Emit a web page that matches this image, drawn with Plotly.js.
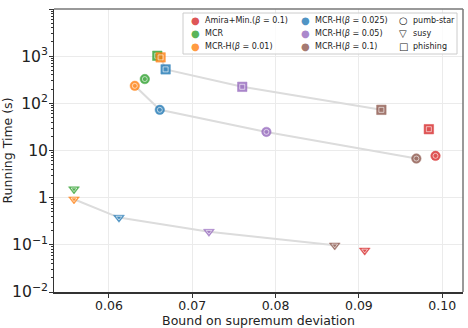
<!DOCTYPE html>
<html>
<head>
<meta charset="utf-8">
<script src="https://cdn.plot.ly/plotly-3.0.1.min.js"></script>
<style>
  html, body { margin: 0; padding: 0; background: #fff; }
  #plotArea { width: 468px; height: 328px; }
</style>
</head>
<body>
<div id="plotArea"></div>
<script>
// order of points in every array: pumb-star, susy, phishing
var datasets = ["pumb-star", "susy", "phishing"];
var datasetSymbols = ["circle", "triangle-down", "square"];
var datasetGlyphs = ["○", "▽", "□"];

var methods = ["Amira+Min.(<i>β</i> = 0.1)", "MCR", "MCR-H(<i>β</i> = 0.01)",
               "MCR-H(<i>β</i> = 0.025)", "MCR-H(<i>β</i> = 0.05)", "MCR-H(<i>β</i> = 0.1)"];
var colors = ["#d62728", "#2ca02c", "#ff7f0e", "#1f77b4", "#9467bd", "#8c564b"];

var amiraBound = [0.0992, 0.0907, 0.0984];
var amiraTime  = [7.7, 0.076, 28.3];
var mcrBound   = [0.0643, 0.0558, 0.0658];
var mcrTime    = [327, 1.51, 1020];
var h01Bound   = [0.0631, 0.0558, 0.0662];
var h01Time    = [235, 0.925, 942];
var h025Bound  = [0.0661, 0.0612, 0.0668];
var h025Time   = [72.8, 0.378, 525];
var h05Bound   = [0.0789, 0.0720, 0.0760];
var h05Time    = [24.8, 0.19, 224];
var h1Bound    = [0.0969, 0.0871, 0.0927];
var h1Time     = [6.76, 0.0975, 72.8];

var bounds = [amiraBound, mcrBound, h01Bound, h025Bound, h05Bound, h1Bound];
var times  = [amiraTime, mcrTime, h01Time, h025Time, h05Time, h1Time];

function hexA(hex, a) {
  var n = parseInt(hex.slice(1), 16);
  return "rgba(" + (n >> 16) + "," + ((n >> 8) & 255) + "," + (n & 255) + "," + a + ")";
}

var data = [];

// grey lines through the MCR-H runs of each dataset
var hierarchy = [2, 3, 4, 5];
datasets.forEach(function (ds, d) {
  data.push({
    x: hierarchy.map(function (m) { return bounds[m][d]; }),
    y: hierarchy.map(function (m) { return times[m][d]; }),
    mode: "lines",
    line: { color: "#dcdcdc", width: 2 },
    hoverinfo: "skip"
  });
});

methods.forEach(function (name, m) {
  data.push({
    x: bounds[m], y: times[m],
    mode: "markers",
    name: name,
    marker: { color: colors[m], size: 9.5, symbol: datasetSymbols, opacity: 0.8,
              line: { color: colors[m], width: 0.5 } }
  });
  // small white inner ring on every marker
  data.push({
    x: bounds[m], y: times[m],
    mode: "markers",
    hoverinfo: "skip",
    marker: { color: "rgba(255,255,255,0.75)", size: 5,
              symbol: datasetSymbols.map(function (s) { return s + "-open"; }),
              line: { width: 0.8 } }
  });
});

// legend drawn as a framed block of text in the upper right, 3 columns x 3 rows
var W = 468, H = 328, mL = 54, mR = 5, mT = 9, mB = 36;
var pw = W - mL - mR, ph = H - mT - mB;
function px(x) { return (x - mL) / pw; }
function py(y) { return 1 - (y - mT) / ph; }
var colX = [195, 305, 403];
var rowY = [21, 33.5, 46];
var annotations = [];
function legendEntry(col, row, glyph, glyphColor, glyphSize, label) {
  annotations.push({ xref: "paper", yref: "paper", x: px(colX[col]), y: py(rowY[row]),
    text: glyph, showarrow: false, xanchor: "center", yanchor: "middle",
    borderpad: 0,
    font: { family: "DejaVu Sans", size: glyphSize, color: glyphColor } });
  annotations.push({ xref: "paper", yref: "paper", x: px(colX[col] + 9), y: py(rowY[row]),
    text: label, showarrow: false, xanchor: "left", yanchor: "middle",
    borderpad: 0,
    font: { family: "DejaVu Sans", size: 8, color: "#222" } });
}
methods.forEach(function (name, m) {
  legendEntry(Math.floor(m / 3), m % 3, "●", hexA(colors[m], 0.8), 10, name);
});
datasets.forEach(function (ds, d) {
  legendEntry(2, d, "<b>" + datasetGlyphs[d] + "</b>", "#222", 10, ds);
});

var layout = {
  width: W, height: H,
  margin: { l: mL, r: mR, t: mT, b: mB },
  paper_bgcolor: "#fff", plot_bgcolor: "#fff",
  font: { family: "DejaVu Sans", size: 12, color: "#222" },
  showlegend: false,
  xaxis: {
    title: { text: "Bound on supremum deviation", font: { size: 12.5 }, standoff: 4 },
    range: [0.0534, 0.1025],
    tick0: 0.06, dtick: 0.01, tickformat: ".2f",
    ticks: "outside", ticklen: 4, tickcolor: "#333", ticklabelstandoff: -3,
    showline: true, linecolor: "#333", linewidth: 1.5,
    showgrid: true, gridcolor: "#ebebeb", zeroline: false,
    tickfont: { size: 12.5 }
  },
  yaxis: {
    title: { text: "Running Time (s)", font: { size: 12.5 }, standoff: 6 },
    type: "log", range: [-2, 4], dtick: 1, exponentformat: "power",
    ticks: "outside", ticklen: 4, tickcolor: "#333", ticklabelstandoff: -2,
    minor: { ticks: "outside", ticklen: 2, tickcolor: "#333", dtick: "D1", showgrid: false },
    showline: true, linecolor: "#333", linewidth: 1.5,
    showgrid: true, gridcolor: "#ebebeb", zeroline: false,
    tickfont: { size: 12.5 }
  },
  annotations: annotations,
  shapes: [
    { type: "line", xref: "paper", yref: "paper", x0: 0, x1: 1, y0: 1, y1: 1,
      line: { color: "#777", width: 1.5 } },
    { type: "line", xref: "paper", yref: "paper", x0: 1, x1: 1, y0: 0, y1: 1,
      line: { color: "#777", width: 1.5 } },
    { type: "rect", xref: "paper", yref: "paper",
      x0: px(183), x1: px(457), y0: py(54), y1: py(13),
      layer: "above", fillcolor: "rgba(255,255,255,0.8)", line: { color: "#cccccc", width: 1 } }
  ]
};

Plotly.newPlot("plotArea", data, layout, { staticPlot: true });
</script>
</body>
</html>
